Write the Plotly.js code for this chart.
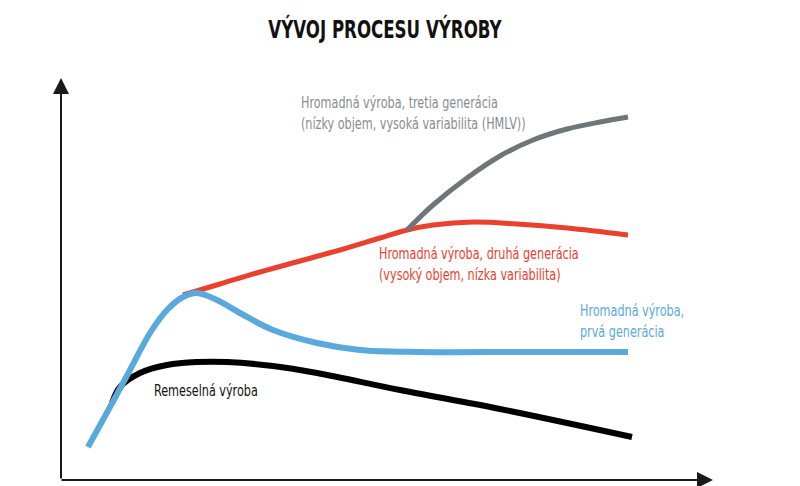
<!DOCTYPE html>
<html>
<head>
<meta charset="utf-8">
<script src="https://cdn.plot.ly/plotly-3.0.1.min.js"></script>
<style>
  html, body { margin: 0; padding: 0; background: #fff; }
  #chart { width: 800px; height: 486px; }
  /* the original uses a narrow grotesque; squeeze the condensed fallback a bit more */
  #chart .annotation-text { transform-box: fill-box; transform-origin: 0 50%; transform: scaleX(0.78); }
  #chart .gtitle { transform-box: fill-box; transform-origin: 50% 50%; transform: scaleX(0.74); }
</style>
</head>
<body>
<div id="chart"></div>
<script>
// Values (time on x, level on y, arbitrary units)
var craftX = [52, 60, 80, 107, 137, 167, 213, 257, 340, 440, 572];
var craftY = [77, 93, 107, 115, 118, 118, 114, 107, 90, 71, 43];

var gen1X = [28, 50, 70, 90, 107, 123, 137, 157, 180, 213, 257, 300, 360, 460, 568];
var gen1Y = [33, 73, 110, 147, 170, 183, 187, 180, 167, 150, 137, 130, 128, 128, 128];

var gen2X = [123, 160, 200, 240, 280, 320, 347, 373, 413, 457, 507, 568];
var gen2Y = [185, 196, 208, 219, 230, 242, 250, 255, 258, 256, 252, 245];

var gen3X = [347, 373, 407, 440, 473, 507, 540, 568];
var gen3Y = [250, 275, 302, 324, 340, 351, 358, 363];

var seriesNames = [
    "Remeselná výroba",
    "Hromadná výroba,<br>prvá generácia",
    "Hromadná výroba, druhá generácia<br>(vysoký objem, nízka variabilita)",
    "Hromadná výroba, tretia generácia<br>(nízky objem, vysoká variabilita (HMLV))"
];

var chartTitle = "VÝVOJ PROCESU VÝROBY";

var FONT = '"Liberation Sans Narrow", "DejaVu Sans Condensed", sans-serif';

function line(x, y, color, width, name) {
    return {
        type: 'scatter',
        mode: 'lines',
        x: x,
        y: y,
        name: name,
        hoverinfo: 'skip',
        line: { color: color, width: width, shape: 'spline', smoothing: 1 }
    };
}

var traces = [
    line(craftX, craftY, '#000000', 6, seriesNames[0]),
    line(gen2X, gen2Y, '#e9412d', 5, seriesNames[2]),
    line(gen3X, gen3Y, '#6e767a', 5, seriesNames[3]),
    line(gen1X, gen1Y, '#5aa9dd', 6, seriesNames[1])
];

function label(x, y, text, color) {
    return {
        x: x, y: y, xref: 'x', yref: 'y',
        xanchor: 'left', yanchor: 'middle', align: 'left',
        text: text, showarrow: false,
        font: { family: FONT, size: 16, color: color }
    };
}

var layout = {
    width: 800,
    height: 486,
    margin: { l: 60, r: 80, t: 70, b: 6 },
    showlegend: false,
    plot_bgcolor: '#ffffff',
    paper_bgcolor: '#ffffff',
    xaxis: { range: [0, 660], visible: false, fixedrange: true },
    yaxis: { range: [0, 410], visible: false, fixedrange: true },
    title: {
        text: '<b>' + chartTitle + '</b>',
        font: { family: FONT, size: 25, color: '#111111' },
        xref: 'container', x: 0.481, xanchor: 'center',
        yref: 'container', y: 0.94, yanchor: 'middle'
    },
    annotations: [
        // axes with arrowheads
        { x: 1, y: 402, ax: 1, ay: 0, xref: 'x', yref: 'y', axref: 'x', ayref: 'y',
          text: '', showarrow: true, arrowhead: 2, arrowsize: 1.6, arrowwidth: 2, arrowcolor: '#1a1a1a' },
        { x: 653, y: 0, ax: 0, ay: 0, xref: 'x', yref: 'y', axref: 'x', ayref: 'y',
          text: '', showarrow: true, arrowhead: 2, arrowsize: 1.6, arrowwidth: 2, arrowcolor: '#1a1a1a' },
        // series labels
        label(92, 90, seriesNames[0], '#111111'),
        label(518, 159, seriesNames[1], '#5aa9dd'),
        label(317, 216, seriesNames[2], '#e9412d'),
        label(239, 367, seriesNames[3], '#868d91')
    ]
};

Plotly.newPlot('chart', traces, layout, { displayModeBar: false, staticPlot: true });
</script>
</body>
</html>
